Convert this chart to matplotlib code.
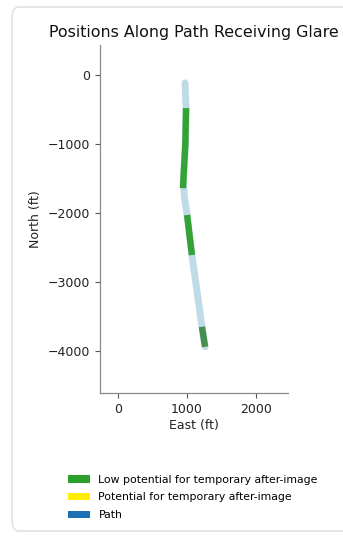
import matplotlib
matplotlib.use("Agg")
import matplotlib.pyplot as plt
from matplotlib.patches import Patch, FancyBboxPatch

# Path coordinates (ft)
path_east = [970, 985, 975, 945, 965, 1000, 1070, 1215, 1260]
path_north = [-115, -480, -1000, -1560, -1800, -2030, -2610, -3650, -3940]

# Glare segments (low potential for temporary after-image)
glare_segments = [
    ([985, 975, 940], [-480, -1000, -1640]),
    ([1000, 1070], [-2030, -2610]),
    ([1215, 1260], [-3650, -3940]),
]
glare_colors = ["#2ca02c", "#2ca02c", "#3f8a45"]

legend_labels = ["Low potential for temporary after-image",
                 "Potential for temporary after-image",
                 "Path"]
legend_colors = ["#2ca02c", "#ffee00", "#1f6fb4"]

x_ticks = [0, 1000, 2000]
y_ticks = [0, -1000, -2000, -3000, -4000]

fig = plt.figure(figsize=(3.43, 5.39), dpi=100)
fig.patch.set_facecolor("white")

# card border
border = FancyBboxPatch((12 / 343, 8 / 539), 1.2, 524 / 539,
                        boxstyle="round,pad=0,rounding_size=0.02",
                        transform=fig.transFigure, facecolor="none",
                        edgecolor="#dcdcdc", linewidth=1.0, zorder=0)
fig.patches.append(border)

ax = fig.add_axes([100 / 343, 1 - 393 / 539, 188 / 343, 348 / 539])
ax.plot(path_east, path_north, color="#aed2e2", linewidth=5.0, alpha=0.8,
        solid_capstyle="round", zorder=2)
for (ex, ny), c in zip(glare_segments, glare_colors):
    ax.plot(ex, ny, color=c, linewidth=4.6, alpha=0.95,
            solid_capstyle="butt", zorder=3)

ax.set_xlim(-260, 2460)
ax.set_ylim(-4610, 435)
ax.set_xticks(x_ticks)
ax.set_yticks(y_ticks)
ax.tick_params(labelsize=9, length=3.5, width=0.8)
ax.tick_params(axis="both", colors="#555555", labelcolor="#222222")
for s in ["top", "right"]:
    ax.spines[s].set_visible(False)
for s in ["left", "bottom"]:
    ax.spines[s].set_color("#888888")
    ax.spines[s].set_linewidth(0.9)
ax.set_xlabel("East (ft)", fontsize=9, color="#222222", labelpad=2)
ax.set_ylabel("North (ft)", fontsize=9, color="#222222", labelpad=4)
ax.set_title("Positions Along Path Receiving Glare", fontsize=11.4,
             color="#111111", pad=6)

handles = [Patch(facecolor=c, edgecolor="none") for c in legend_colors]
fig.legend(handles, legend_labels, loc="upper left",
           bbox_to_anchor=(60 / 343, 1 - 467 / 539), frameon=False,
           fontsize=7.8, handlelength=2.1, handleheight=0.7,
           labelspacing=0.72, handletextpad=0.75, borderpad=0.2)

fig.savefig("out.png", dpi=100)
